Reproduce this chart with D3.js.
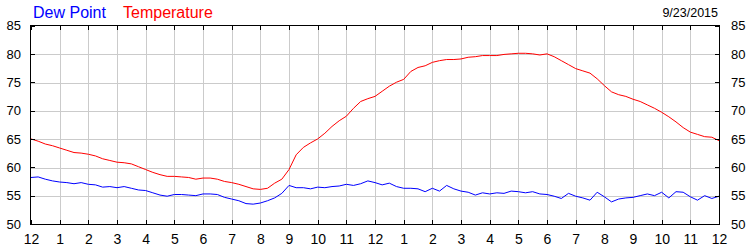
<!DOCTYPE html>
<html>
<head>
<meta charset="utf-8">
<script src="https://cdn.jsdelivr.net/npm/d3@7"></script>
<style>
  body { margin: 0; background: #fff; }
  svg { display: block; font-family: "Liberation Sans", Arial, sans-serif; }
  .grid line { stroke: #cbcbcb; stroke-width: 1; shape-rendering: crispEdges; }
  .axis line { stroke: #000; shape-rendering: crispEdges; }
  .axis .domain { display: none; }
  .axis text { fill: #000; }
</style>
</head>
<body>
<div id="canvas"></div>
<script>
// readings every 15 minutes, midnight to midnight
var minutesStep = 15;
var temperature = [
  65.0, 64.6, 64.1, 63.8, 63.4, 63.0, 62.6, 62.5, 62.3, 62.0, 61.5, 61.2,
  60.9, 60.8, 60.6, 60.1, 59.6, 59.1, 58.7, 58.4, 58.4, 58.3, 58.2, 57.9,
  58.1, 58.1, 57.9, 57.5, 57.3, 57.0, 56.6, 56.2, 56.1, 56.3, 57.2, 57.9,
  59.6, 62.2, 63.5, 64.3, 65.0, 66.0, 67.2, 68.2, 69.0, 70.4, 71.6, 72.1,
  72.5, 73.4, 74.3, 75.0, 75.5, 76.9, 77.6, 77.9, 78.5, 78.8, 79.0, 79.0,
  79.1, 79.4, 79.5, 79.7, 79.7, 79.7, 79.9, 80.0, 80.1, 80.1, 80.0, 79.8,
  80.0, 79.5, 78.8, 78.1, 77.4, 77.0, 76.6, 75.6, 74.4, 73.3, 72.8, 72.5,
  72.0, 71.6, 71.0, 70.4, 69.7, 68.9, 68.0, 67.0, 66.2, 65.8, 65.4, 65.3,
  64.7
];
var dewPoint = [
  58.2, 58.3, 57.9, 57.6, 57.4, 57.3, 57.1, 57.3, 57.0, 56.9, 56.5, 56.6,
  56.4, 56.6, 56.3, 56.0, 55.9, 55.5, 55.1, 54.9, 55.2, 55.2, 55.1, 55.0,
  55.3, 55.3, 55.2, 54.7, 54.4, 54.1, 53.6, 53.5, 53.7, 54.1, 54.6, 55.4,
  56.8, 56.4, 56.4, 56.2, 56.5, 56.4, 56.6, 56.7, 57.0, 56.8, 57.1, 57.6,
  57.3, 56.9, 57.2, 56.6, 56.3, 56.3, 56.2, 55.7, 56.3, 55.8, 56.8, 56.2,
  55.8, 55.6, 55.1, 55.5, 55.3, 55.5, 55.4, 55.8, 55.7, 55.5, 55.7, 55.3,
  55.2, 54.9, 54.5, 55.4, 54.9, 54.6, 54.2, 55.6, 54.8, 53.9, 54.4, 54.6,
  54.7, 55.0, 55.3, 55.0, 55.6, 54.6, 55.7, 55.6, 54.8, 54.2, 55.0, 54.5,
  54.9
];
var hourLabels = ['12','1','2','3','4','5','6','7','8','9','10','11',
                  '12','1','2','3','4','5','6','7','8','9','10','11','12'];
var yTicks = [50, 55, 60, 65, 70, 75, 80, 85];
var dateLabel = '9/23/2015';

var W = 750, H = 250;
var m = {t: 25.5, r: 31, b: 26, l: 31};
var w = W - m.l - m.r, h = H - m.t - m.b;

var svg = d3.select('#canvas').append('svg')
    .attr('width', W)
    .attr('height', H);

var plot = svg.append('g')
    .attr('transform', 'translate(' + m.l + ',' + m.t + ')');

// Scales
var scaleX = d3.scaleLinear().domain([0, 24]).range([0, w]);
var scaleY = d3.scaleLinear().domain([50, 85]).range([h, 0]);

var hours = d3.range(hourLabels.length);

// grid
var grid = plot.append('g').attr('class', 'grid');
grid.selectAll('.gx').data(hours.slice(1, -1)).enter()
    .append('line')
    .attr('x1', function(d){ return Math.round(scaleX(d)) + 0.5; })
    .attr('x2', function(d){ return Math.round(scaleX(d)) + 0.5; })
    .attr('y1', 0).attr('y2', h);
grid.selectAll('.gy').data(yTicks.slice(1, -1)).enter()
    .append('line')
    .attr('y1', function(d){ return Math.round(scaleY(d)) + 0.5; })
    .attr('y2', function(d){ return Math.round(scaleY(d)) + 0.5; })
    .attr('x1', 0).attr('x2', w);

// lines
var line = d3.line()
    .x(function(d, i){ return scaleX(i * minutesStep / 60); })
    .y(function(d){ return scaleY(d); });

plot.append('path').datum(temperature)
    .attr('d', line)
    .attr('fill', 'none')
    .attr('stroke', '#ff0000')
    .attr('stroke-width', 1);

plot.append('path').datum(dewPoint)
    .attr('d', line)
    .attr('fill', 'none')
    .attr('stroke', '#0000ff')
    .attr('stroke-width', 1);

// frame
plot.append('rect')
    .attr('x', -0.5).attr('y', -0.5)
    .attr('width', w + 1).attr('height', h + 1)
    .attr('fill', 'none')
    .attr('stroke', '#000')
    .attr('shape-rendering', 'crispEdges');

// Axis
var axisL = d3.axisLeft(scaleY).tickValues(yTicks).tickSize(-4).tickPadding(10);
var axisR = d3.axisRight(scaleY).tickValues(yTicks).tickSize(-4).tickPadding(12);
var axisB = d3.axisBottom(scaleX).tickValues(hours)
    .tickFormat(function(d){ return hourLabels[d]; })
    .tickSize(-4).tickPadding(10);
var axisT = d3.axisTop(scaleX).tickValues(hours).tickSize(-4).tickFormat('');

plot.append('g').attr('class', 'axis').call(axisL)
    .selectAll('text').style('font-size', '13px');
plot.append('g').attr('class', 'axis')
    .attr('transform', 'translate(' + w + ',0)')
    .call(axisR)
    .selectAll('text').style('font-size', '13px');
plot.append('g').attr('class', 'axis')
    .attr('transform', 'translate(0,' + h + ')')
    .call(axisB)
    .selectAll('text').style('font-size', '14px');
plot.append('g').attr('class', 'axis').call(axisT);

// legend + date
svg.append('text')
    .attr('x', 33).attr('y', 17.5)
    .style('font-size', '16px')
    .style('fill', '#0000ff')
    .text('Dew Point');
svg.append('text')
    .attr('x', 123).attr('y', 17.5)
    .style('font-size', '16px')
    .style('fill', '#ff0000')
    .text('Temperature');
svg.append('text')
    .attr('x', 718).attr('y', 16.5)
    .attr('text-anchor', 'end')
    .style('font-size', '12.5px')
    .style('fill', '#000')
    .text(dateLabel);
</script>
</body>
</html>
